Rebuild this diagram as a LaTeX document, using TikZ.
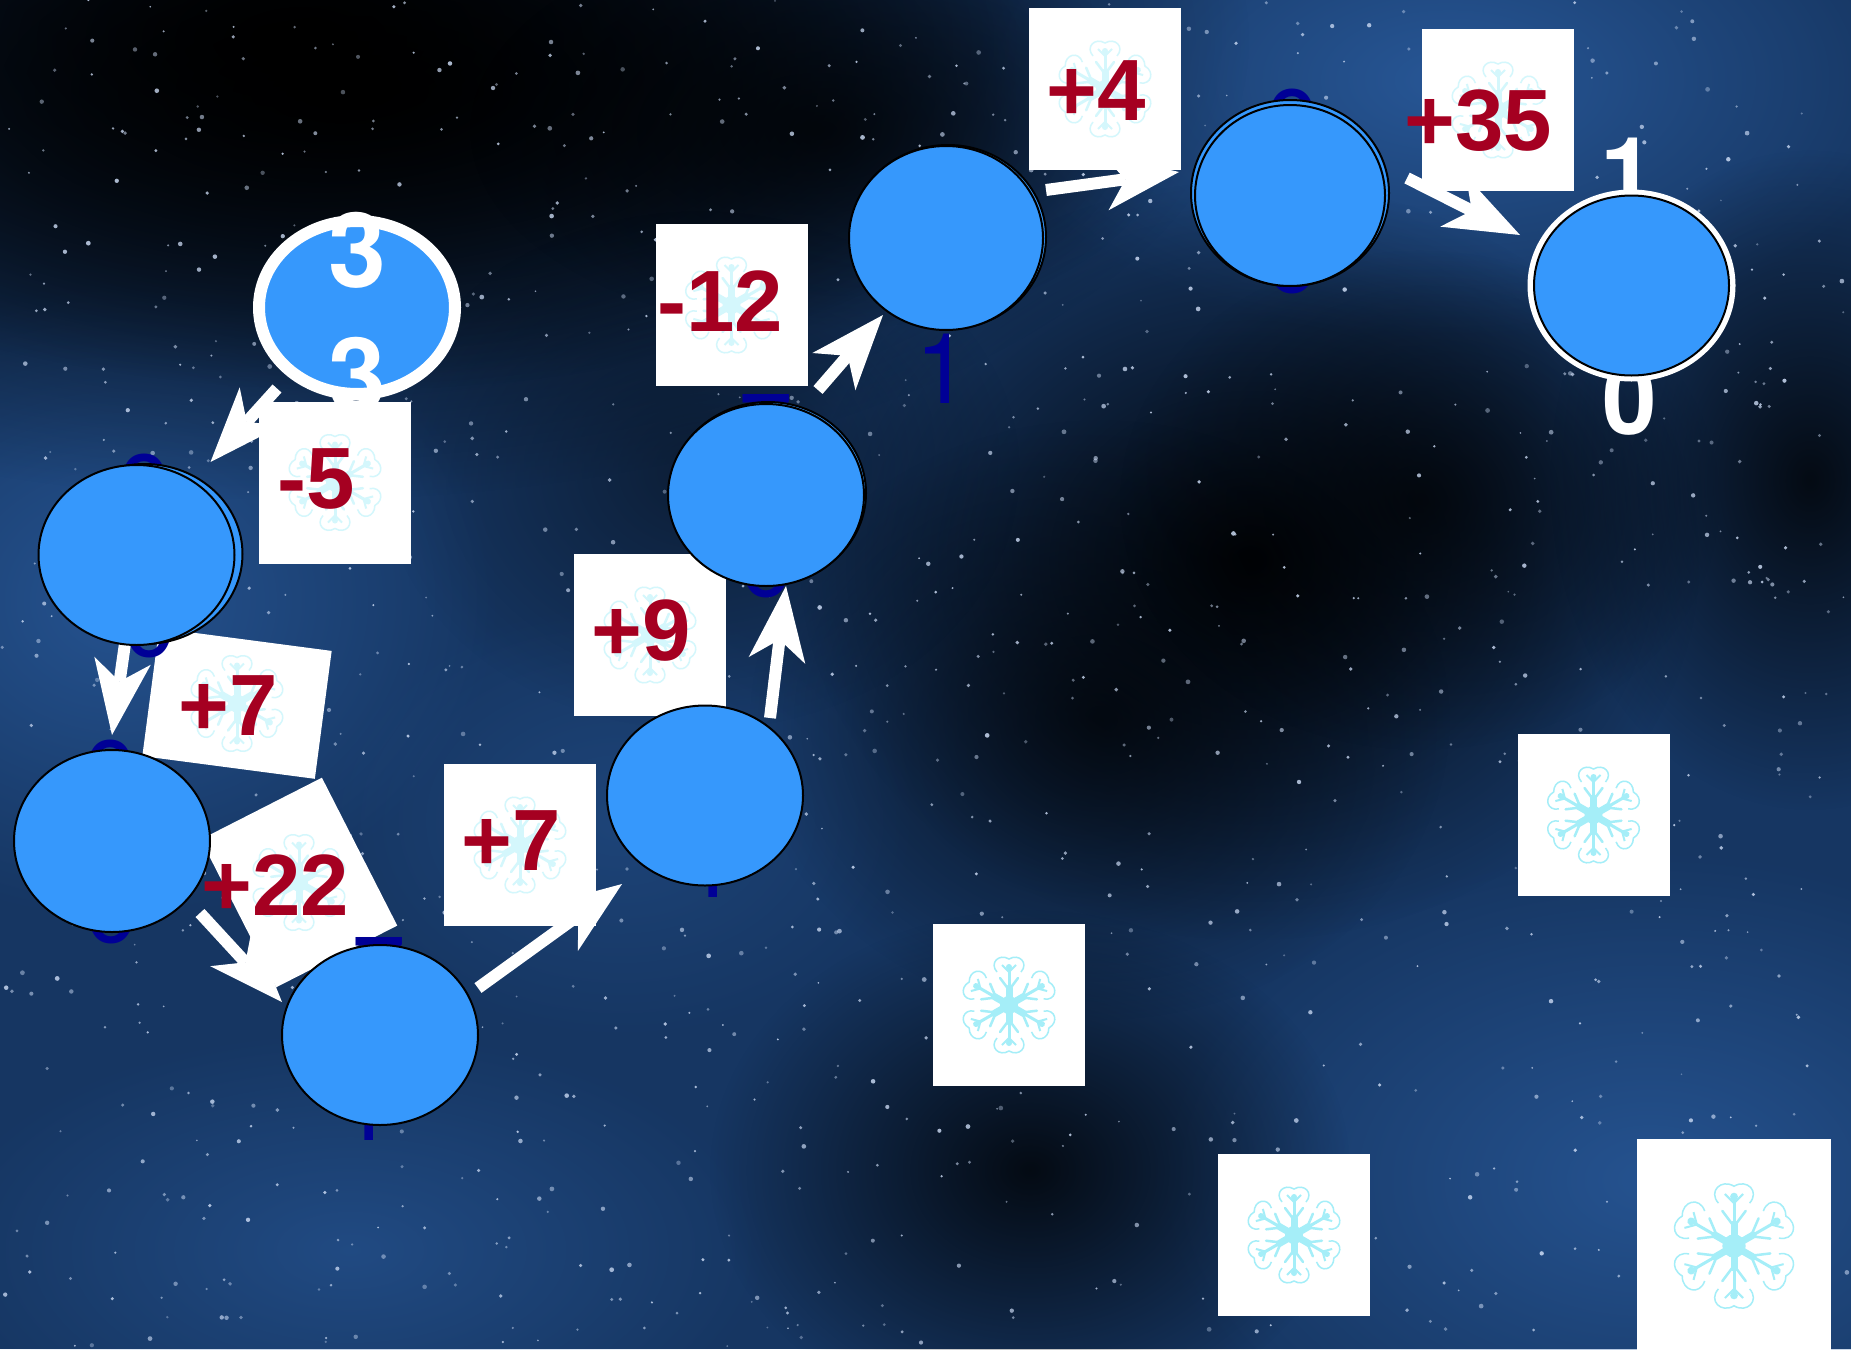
\documentclass[tikz,border=0pt]{standalone}
\usepackage{fontspec}
\setmainfont{Liberation Sans}
\newfontfamily\digfont{TeX Gyre Heros}
\usetikzlibrary{shapes.geometric,arrows.meta,calc,fadings}
\definecolor{ballblue}{RGB}{54,152,252}
\definecolor{numred}{RGB}{165,0,33}
\definecolor{navyd}{RGB}{0,0,150}
\definecolor{skybase}{RGB}{22,54,98}
\definecolor{skylight}{RGB}{44,95,163}
\definecolor{starcol}{RGB}{205,220,245}
\definecolor{flakec}{RGB}{165,238,248}
\definecolor{flakef}{RGB}{212,247,252}
\tikzfading[name=softblob, inner color=transparent!0, outer color=transparent!100]
\tikzset{
  flake/.pic={
    \foreach \a in {0,60,...,300}{
      \draw[rotate=\a, line width=7pt, line cap=round] (0,0) -- (0,17);
      \draw[rotate=\a, line width=3pt, line cap=round] (0,0) -- (0,36);
      \draw[rotate=\a, line width=2.5pt, line cap=round] (-9,27) -- (0,15) -- (9,27);
      \draw[rotate=\a, line width=2pt] (-7,40) -- (0,33) -- (7,40);
      \fill[rotate=\a] (0,38) circle (3pt);
      \draw[rotate=\a, line width=1.5pt] (-12,33) .. controls (-20,42) and (-10,52) .. (0,46) .. controls (10,52) and (20,42) .. (12,33);
    }
    \fill (0,0) circle (9pt);
  }
}
\begin{document}
\begin{tikzpicture}[x=1pt,y=-1pt,
  ball/.style={ellipse, draw=black, line width=2pt, fill=ballblue, minimum width=196pt, minimum height=180pt, inner sep=0pt, outer sep=0pt},
  card/.style={rectangle, fill=white, inner sep=0pt, outer sep=0pt, minimum width=152pt, minimum height=162pt},
  num/.style={text=numred, font=\fontsize{87pt}{87pt}\selectfont\bfseries, inner sep=0pt, anchor=base},
  hid/.style={text=navyd, font=\digfont\fontsize{98pt}{98pt}\selectfont, inner sep=0pt, anchor=base},
  wdig/.style={text=white, font=\digfont\fontsize{98pt}{98pt}\selectfont\bfseries, inner sep=0pt, anchor=base},
  arr/.style={draw=white, line width=12pt, -{Stealth[length=75pt, width=57pt, inset=21pt, line width=0pt]}},
  blob/.style={path fading=softblob}
]
\useasboundingbox (0,0) rectangle (1851,1349);
\clip (0,0) rectangle (1851,1349);
% ---------- background ----------
\fill[skybase] (0,0) rectangle (1851,1349);
\fill[skylight, blob, fill opacity=0.8] (1450,80) ellipse [x radius=480pt, y radius=260pt];
\fill[skylight, blob, fill opacity=0.7] (120,600) ellipse [x radius=380pt, y radius=320pt];
\fill[skylight, blob, fill opacity=0.7] (1650,1180) ellipse [x radius=500pt, y radius=330pt];
\fill[skylight, blob, fill opacity=0.5] (350,1250) ellipse [x radius=420pt, y radius=220pt];
\fill[skylight, blob, fill opacity=0.35] (620,820) ellipse [x radius=300pt, y radius=220pt];
\fill[black, blob, fill opacity=1] (300,40) ellipse [x radius=950pt, y radius=460pt];
\fill[black, blob, fill opacity=1] (350,90) ellipse [x radius=700pt, y radius=300pt];
\fill[black, blob, fill opacity=0.7] (820,130) ellipse [x radius=350pt, y radius=200pt];
\fill[black, blob, fill opacity=0.9] (1250,560) ellipse [x radius=450pt, y radius=380pt];
\fill[black, blob, fill opacity=0.7] (1100,720) ellipse [x radius=350pt, y radius=300pt];
\fill[black, blob, fill opacity=0.7] (1420,500) ellipse [x radius=300pt, y radius=250pt];
\fill[black, blob, fill opacity=0.8] (1030,1170) ellipse [x radius=320pt, y radius=260pt];
\fill[black, blob, fill opacity=0.8] (1810,480) ellipse [x radius=260pt, y radius=330pt];
\fill[black, blob, fill opacity=0.45] (700,470) ellipse [x radius=320pt, y radius=260pt];
\pgfmathsetseed{2024}
\foreach \i in {1,...,1200}{
  \pgfmathsetmacro\sx{rnd*1851}
  \pgfmathsetmacro\sy{rnd*1349}
  \pgfmathsetmacro\sr{0.9+1.5*rnd}
  \pgfmathsetmacro\so{0.35+0.5*rnd}
  \fill[starcol, opacity=\so] (\sx,\sy) circle (\sr pt);
}
% ---------- centres of the balls ----------
\coordinate (A) at (357,307.5);
\coordinate (B) at (136.5,555);
\coordinate (C) at (112,841);
\coordinate (D) at (380,1035);
\coordinate (E) at (705,795.5);
\coordinate (F) at (766,495);
\coordinate (G) at (946,238);
\coordinate (H) at (1290,195.5);
\coordinate (I) at (1631.5,285.5);
% ---------- arrows ----------
\draw[arr] ($(A)+(-80,81)$) -- ($(B)+(74,-93)$);
\draw[arr] ($(B)+(-11,85)$) -- ($(C)+(0,-106)$);
\draw[arr] ($(C)+(88,72)$) -- ($(D)+(-98,-33)$);
\draw[arr] ($(D)+(98,-47)$) -- ($(E)+(-83,88.5)$);
\draw[arr] ($(E)+(65,-77.5)$) -- ($(F)+(20,91)$);
\draw[arr] ($(F)+(52,-105)$) -- ($(G)+(-63,77)$);
\draw[arr] ($(G)+(100,-48)$) -- ($(H)+(-111,-23.5)$);
\draw[arr] ($(H)+(117,-17.5)$) -- ($(I)+(-111.5,-50.5)$);
% ---------- cards ----------
\node[card] (c1) at (335,482.5) {};
\pic[flakef] at (c1) {flake};
\node[card, minimum width=174pt, minimum height=129pt, rotate=-7.5] (c2) at (237,703.5) {};
\pic[flakef] at (c2) {flake};
\node[card, minimum width=136pt, minimum height=166pt, rotate=27] (c3) at (299,882.5) {};
\pic[flakef] at (c3) {flake};
\node[card] (c4) at (520,845) {};
\pic[flakef] at (c4) {flake};
\node[card] (c5) at (650,635) {};
\pic[flakef] at (c5) {flake};
\node[card] (c6) at (731.5,305) {};
\pic[flakef] at (c6) {flake};
\node[card] (c7) at (1105,89) {};
\pic[flakef] at (c7) {flake};
\node[card] (c8) at (1498,110) {};
\pic[flakef] at (c8) {flake};
\node[card] (c9) at (1593.5,815) {};
\pic[flakec] at (c9) {flake};
\node[card] (c10) at (1009,1005) {};
\pic[flakec] at (c10) {flake};
\node[card] (c11) at (1294,1235) {};
\pic[flakec] at (c11) {flake};
\node[card, minimum width=194pt, minimum height=214pt] (c12) at (1734,1246) {};
\pic[flakec, scale=1.3] at (c12) {flake};
% ---------- hidden navy digits ----------
\node[hid] (nb1) at (145,523) {0};
\node[hid] (nb2) at (150,656) {0};
\node[hid] (nc1) at (111,809) {0};
\node[hid] (nc2) at (112,942) {0};
\node[hid] (nd1) at (379,1005) {7};
\node[hid] (nd2) at (367,1140) {1};
\node[hid] (ne2) at (711,897) {1};
\node[hid] (nf1) at (766,462) {7};
\node[hid] (nf2) at (767,596) {0};
\node[hid] (ng2) at (943,403) {1};
\node[hid] (nh1) at (1293,158) {0};
\node[hid] (nh2) at (1293,292) {0};
\node[wdig] (i1) at (1628,207) {1};
\node[wdig] (i0) at (1630,434) {0};
% ---------- balls ----------
\node[ball] (B2) at (144.5,554) {};
\node[ball, minimum height=182pt] (F2) at (768,493) {};
\node[ball, minimum height=184pt] (G2) at (948,237) {};
\node[ball, minimum width=198pt, minimum height=186pt] (H2) at (1290,193) {};
\node[ball, draw=white, line width=12pt, minimum height=173pt] (nA) at (A) {};
\node[ball] (nB) at (B) {};
\node[ball, minimum height=182pt] (nC) at (C) {};
\node[ball] (nD) at (D) {};
\node[ball] (nE) at (E) {};
\node[ball, minimum height=182pt] (nF) at (F) {};
\node[ball, minimum width=194pt, minimum height=184pt] (nG) at (G) {};
\node[ball, minimum width=190pt, minimum height=181pt] (nH) at (H) {};
\node[ball, draw=white, line width=6pt, minimum width=202pt, minimum height=186pt] (nI) at (I) {};
\draw[black, line width=2pt] (nI.center) ellipse [x radius=97.5pt, y radius=90pt];
% ---------- white digits on A ----------
\node[wdig, font=\digfont\fontsize{104pt}{104pt}\selectfont\bfseries] (a3t) at (357,287) {3};
\node[wdig, font=\digfont\fontsize{104pt}{104pt}\selectfont\bfseries] (a3b) at (357,412) {3};
% ---------- numbers ----------
\node[num] (t1) at (316,508) {-5};
\node[num] (t2) at (228,735) {+7};
\node[num] (t3) at (275,915) {+22};
\node[num] (t4) at (511,870) {+7};
\node[num] (t5) at (641,660) {+9};
\node[num] (t6) at (720,331) {-12};
\node[num] (t7) at (1096,120) {+4};
\node[num] (t8) at (1478,150) {+35};
\end{tikzpicture}
\end{document}
